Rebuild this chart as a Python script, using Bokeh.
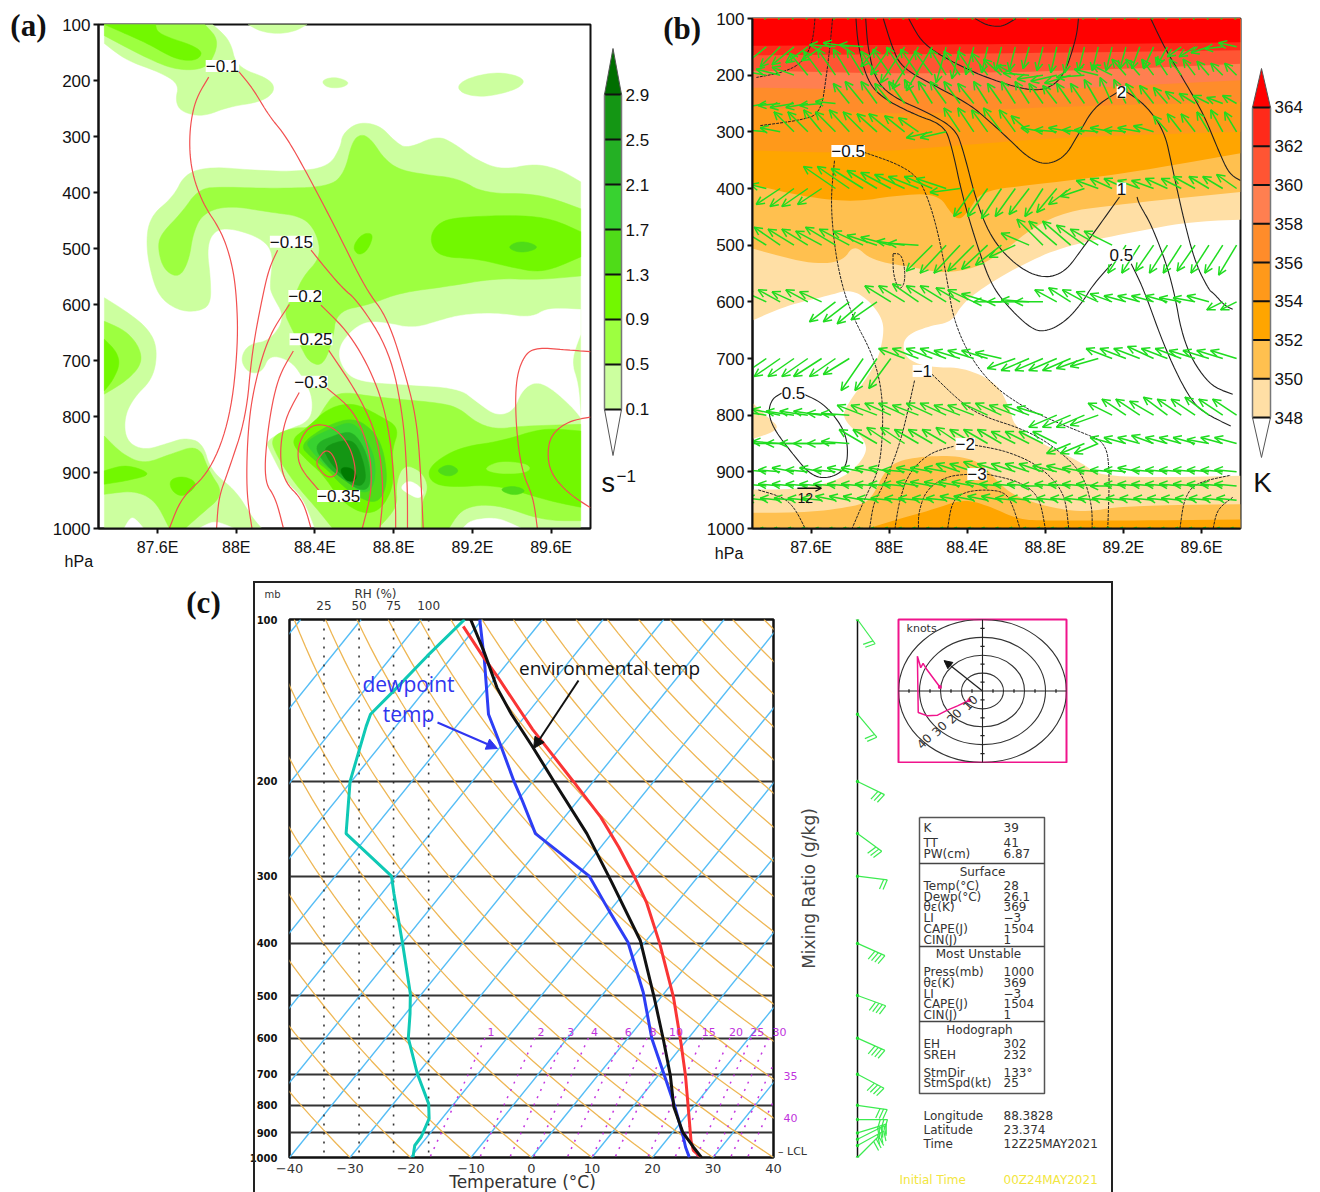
import math
import numpy as np
from bokeh.plotting import figure
from bokeh.layouts import row, column
from bokeh.embed import file_html
from bokeh.resources import INLINE
from bokeh.core.properties import value
from bokeh.models import (Range1d, FixedTicker, LinearAxis, Label, Arrow, InlineStyleSheet,
                          NormalHead, OpenHead)

# ---------------------------------------------------------------- panel (a): shaded field, (lon, hPa)
A_LEVELS = [0.1, 0.5, 0.9, 1.3, 1.7, 2.1, 2.5, 2.9]
A_COLORS = ["#ccff9f", "#9dff40", "#72f800", "#4fdc18", "#38d230", "#24b024", "#149614", "#007a00"]
A_TICKS = ["0.1", "0.5", "0.9", "1.3", "1.7", "2.1", "2.5", "2.9"]

a_light_topleft = [(87.33,100),(87.88,100),(87.97,128),(88.0,176),(88.17,197),(88.2,218),(88.13,238),(87.96,247),(87.83,265),(87.72,256),(87.69,236),(87.71,206),(87.61,185),(87.44,164),(87.33,134)]
a_light_top = [(88.06,100),(88.36,100),(88.30,112),(88.21,117),(88.12,112)]
a_light_s1 = [(88.43,200),(88.50,193),(88.58,203),(88.54,213),(88.46,213)]
a_light_s2 = [(89.12,209),(89.19,194),(89.32,185),(89.43,191),(89.47,203),(89.41,218),(89.26,230),(89.15,224)]
a_light_main = [(87.54,497),(87.56,443),(87.68,408),(87.74,366),(87.87,354),(88.08,360),(88.30,363),(88.47,354),(88.53,319),(88.54,295),(88.62,274),(88.73,280),(88.81,310),(88.87,322),(89.02,298),(89.11,313),(89.22,342),(89.35,360),(89.52,348),(89.65,360),(89.75,381),(89.75,1000),(88.4,1000),(88.34,945),(88.25,915),(88.17,861),(88.15,844),(88.25,825),(88.38,808),(88.39,766),(88.34,731),(88.28,701),(88.17,689),(88.13,722),(88.06,722),(88.02,698),(88.06,671),(88.17,665),(88.25,624),(88.18,582),(88.17,565),(88.19,509),(88.13,482),(87.98,464),(87.89,467),(87.85,497),(87.87,556),(87.87,600),(87.81,612),(87.72,612),(87.63,594),(87.58,564)]
a_light_left = [(87.33,588),(87.44,612),(87.55,642),(87.60,677),(87.58,731),(87.48,766),(87.43,802),(87.44,844),(87.53,861),(87.66,847),(87.74,838),(87.83,847),(87.87,897),(88.0,933),(88.08,980),(88.13,1000),(87.33,1000)]
a_white_right = [(88.52,677),(88.58,648),(88.66,630),(88.77,633),(88.90,643),(89.05,627),(89.15,618),(89.32,615),(89.50,624),(89.58,606),(89.75,609),(89.75,653),(89.70,701),(89.74,743),(89.75,802),(89.71,784),(89.60,749),(89.52,737),(89.45,754),(89.41,790),(89.32,799),(89.22,773),(89.13,749),(88.85,743),(88.60,737),(88.53,707)]
a_white_b1 = [(87.43,1000),(87.47,975),(87.53,1000)]
a_white_b2 = [(87.81,1000),(87.89,985),(87.99,1000)]
a_white_b3 = [(89.15,1000),(89.19,985),(89.32,980),(89.41,993),(89.45,1000)]
a_white_b4 = [(88.83,927),(88.88,912),(88.96,933),(88.93,948),(88.87,937)]

a_mid_topleft = [(87.33,100),(87.84,100),(87.90,122),(87.90,146),(87.85,179),(87.70,182),(87.55,161),(87.33,120)]
a_mid_main = [(87.60,497),(87.62,473),(87.72,437),(87.81,393),(87.93,390),(88.19,393),(88.47,390),(88.55,366),(88.59,307),(88.64,295),(88.69,307),(88.75,339),(88.83,360),(88.98,369),(89.13,375),(89.26,402),(89.54,402),(89.75,429),(89.75,549),(89.54,556),(89.32,553),(89.07,568),(88.83,579),(88.68,600),(88.51,612),(88.49,665),(88.44,710),(88.37,703),(88.33,677),(88.28,642),(88.24,612),(88.30,582),(88.34,550),(88.43,515),(88.41,473),(88.34,443),(88.17,435),(87.96,423),(87.83,437),(87.78,473),(87.76,521),(87.71,553),(87.63,538)]
a_mid_low = [(88.44,787),(88.51,754),(88.72,766),(89.02,775),(89.13,784),(89.22,811),(89.32,823),(89.45,817),(89.75,814),(89.75,986),(89.56,986),(89.32,956),(89.15,962),(89.08,1000),(88.94,1000),(88.94,956),(88.98,927),(88.94,897),(88.85,885),(88.81,921),(88.82,962),(88.72,1000),(88.49,1000),(88.42,969),(88.30,921),(88.21,873),(88.17,838),(88.28,820),(88.39,820)]
a_mid_left1 = [(87.33,630),(87.44,647),(87.51,677),(87.52,707),(87.44,737),(87.33,760)]
a_mid_left2 = [(87.33,835),(87.42,867),(87.53,885),(87.66,868),(87.81,850),(87.86,897),(87.94,939),(87.82,975),(87.74,1000),(87.66,1000),(87.59,950),(87.48,932),(87.33,939)]

a_hi_left1 = [(87.33,662),(87.39,683),(87.41,707),(87.37,737),(87.33,754)]
a_hi_left2 = [(87.33,897),(87.44,885),(87.58,903),(87.44,915),(87.33,921)]
a_hi_left3 = [(87.66,912),(87.74,906),(87.81,921),(87.73,945),(87.67,933)]
a_hi_topleft = [(87.33,100),(87.59,100),(87.6,117),(87.83,143),(87.81,164),(87.70,164),(87.55,134),(87.44,117)]
a_hi_right = [(88.98,485),(89.02,455),(89.13,443),(89.56,440),(89.75,470),(89.75,515),(89.56,544),(89.39,533),(89.22,518),(89.03,515)]
a_hi_small = [(88.59,497),(88.64,473),(88.70,473),(88.67,503),(88.62,513)]
a_hi_low = [(88.98,888),(89.13,855),(89.35,844),(89.56,820),(89.75,826),(89.75,962),(89.58,950),(89.32,921),(89.07,927),(88.98,915)]
a_mid_patch = [(89.25,894),(89.34,879),(89.49,885),(89.49,900),(89.34,903)]
a_13_a = [(89.37,498),(89.45,485),(89.55,498),(89.45,509)]
a_13_b = [(89.01,897),(89.08,884),(89.14,897),(89.08,909)]
a_13_c = [(89.33,930),(89.41,923),(89.48,933),(89.41,942)]
a_core_09 = [(88.27,844),(88.36,820),(88.47,784),(88.6,775),(88.73,799),(88.83,820),(88.79,861),(88.80,897),(88.79,933),(88.73,968),(88.64,974),(88.53,950),(88.44,903),(88.36,879)]
a_core_13 = [(88.32,850),(88.47,814),(88.6,802),(88.7,826),(88.75,861),(88.77,921),(88.72,956),(88.62,945),(88.53,921),(88.47,897),(88.38,873)]
a_core_17 = [(88.35,844),(88.49,820),(88.59,808),(88.66,838),(88.71,879),(88.70,927),(88.64,939),(88.54,909),(88.46,891),(88.38,861)]
a_core_21 = [(88.39,850),(88.51,832),(88.59,826),(88.65,855),(88.68,891),(88.68,927),(88.63,933),(88.53,909),(88.45,885)]
a_core_25 = [(88.44,855),(88.55,841),(88.61,847),(88.65,885),(88.66,915),(88.62,927),(88.53,903),(88.47,879)]
a_core_29 = [(88.52,891),(88.59,891),(88.62,912),(88.56,918)]

# panel (a): red contour lines
a_lines = [
 [(87.86,194),(87.79,235),(87.76,295),(87.77,360),(87.83,420),(87.92,467),(87.97,515),(88.0,573),(88.01,671),(87.97,802),(87.87,897),(87.72,945),(87.66,1000)],
 [(88.01,183),(88.08,212),(88.17,265),(88.25,298),(88.36,366),(88.51,467),(88.66,574),(88.77,624),(88.87,737),(88.92,814),(88.94,921),(88.95,1000)],
 [(88.21,503),(88.17,533),(88.14,574),(88.08,683),(88.05,802),(87.96,897),(87.91,945),(87.90,1000)],
 [(88.38,503),(88.53,568),(88.62,594),(88.78,683),(88.85,802),(88.87,921),(88.87,1000)],
 [(88.27,600),(88.17,653),(88.10,731),(88.06,814),(88.05,933),(88.08,1000)],
 [(88.43,601),(88.58,653),(88.71,737),(88.78,825),(88.81,950),(88.81,1000)],
 [(88.29,683),(88.21,731),(88.16,820),(88.14,915),(88.20,945),(88.24,1000)],
 [(88.47,682),(88.62,760),(88.72,838),(88.75,933),(88.73,1000)],
 [(88.32,757),(88.25,802),(88.22,861),(88.24,915),(88.34,950),(88.38,1000)],
 [(88.46,749),(88.60,790),(88.68,861),(88.69,933),(88.64,1000)],
 [(88.42,932),(88.32,891),(88.31,855),(88.36,820),(88.43,813),(88.51,823),(88.58,855),(88.61,897),(88.59,926)],
 [(88.41,879),(88.45,859),(88.49,866),(88.52,897),(88.49,909),(88.45,906),(88.41,888),(88.41,879)],
 [(89.80,684),(89.67,681),(89.54,677),(89.47,686),(89.42,731),(89.42,814),(89.45,897),(89.51,945),(89.53,1000)],
 [(89.80,801),(89.69,808),(89.60,832),(89.58,867),(89.6,903),(89.69,938),(89.80,963)],
]
a_label_text = ["\u22120.1", "\u22120.15", "\u22120.2", "\u22120.25", "\u22120.3", "\u22120.35"]
a_label_lon = [87.93, 88.28, 88.35, 88.38, 88.38, 88.52]
a_label_hpa = [174, 488, 585, 662, 738, 942]

# ---------------------------------------------------------------- panel (b)
B_LEVELS = [348, 350, 352, 354, 356, 358, 360, 362, 364]
B_COLORS = ["#ffdfa5", "#ffc04f", "#ffa500", "#ff991a", "#ff8c2a", "#ff7f50", "#ff5533", "#ff2a1a", "#ff0000"]

b_348 = [(87.3,100),(89.8,100),(89.8,455),(89.53,459),(89.20,480),(88.88,504),(88.69,533),(88.51,568),(88.38,601),(88.32,636),(88.21,642),(88.08,660),(88.07,689),(88.12,707),(88.23,716),(88.38,716),(88.55,742),(88.62,789),(88.64,819),(88.77,848),(88.99,884),(89.07,907),(89.42,910),(89.8,907),(89.8,1000),(87.3,1000),(87.3,931),(87.54,931),(87.76,913),(87.87,878),(87.89,848),(87.76,807),(87.78,783),(87.93,713),(87.97,666),(87.97,631),(87.89,595),(87.80,578),(87.69,589),(87.47,607),(87.3,633)]
b_348_left = [(87.3,778),(87.37,801),(87.45,825),(87.3,842)]
b_350_up = [(87.3,100),(89.8,100),(89.8,406),(89.20,427),(88.82,445),(88.51,533),(88.30,551),(88.12,539),(87.91,527),(87.82,498),(87.76,530),(87.585,533),(87.3,506)]
b_350_sfc = [(87.3,1000),(87.3,972),(87.585,972),(87.84,960),(87.91,948),(87.99,889),(88.12,874),(88.34,871),(88.47,883),(88.56,919),(88.64,942),(88.79,960),(88.99,972),(89.20,960),(89.8,957),(89.8,1000)]
b_352_up = [(87.3,100),(89.8,100),(89.8,338),(89.20,374),(88.77,392),(88.47,404),(88.41,439),(88.36,456),(88.32,445),(88.25,409),(88.04,412),(87.82,424),(87.57,415),(87.3,393)]
b_352_sfc = [(87.89,1000),(88.04,984),(88.23,966),(88.38,948),(88.51,960),(88.66,984),(88.79,986),(89.20,986),(89.8,984),(89.8,1000)]
b_354_lon = [87.3, 87.82, 88.36, 88.80, 89.20, 89.8]
b_354_hpa = [333, 338, 324, 312, 306, 300]
b_356_lon = [87.3, 88.12, 88.75, 89.8]
b_356_hpa = [256, 271, 256, 248]
b_358_lon = [87.3, 88.12, 88.75, 89.8]
b_358_hpa = [222, 227, 227, 209]
b_360_lon = [87.3, 88.12, 88.99, 89.8]
b_360_hpa = [192, 198, 192, 180]
b_362_lon = [87.3, 88.5, 89.8]
b_362_hpa = [165, 162, 156]
b_364_lon = [87.3, 87.91, 88.56, 89.2, 89.8]
b_364_hpa = [148, 147, 145, 145, 142]

b_solid = [
 [(87.83,100),(87.84,147),(87.89,212),(87.97,241),(88.12,268),(88.28,288),(88.32,324),(88.38,421),(88.47,521),(88.53,574),(88.62,613),(88.73,648),(88.80,653),(88.90,636),(88.99,601),(89.04,572),(89.14,533)],
 [(89.24,533),(89.30,574),(89.42,689),(89.55,778),(89.64,801),(89.75,819)],
 [(87.88,100),(87.89,151),(87.93,209),(88.02,239),(88.21,268),(88.34,295),(88.38,333),(88.45,427),(88.53,492),(88.66,539),(88.79,559),(88.90,548),(88.99,506),(89.07,468),(89.18,415)],
 [(89.27,415),(89.28,427),(89.35,468),(89.45,562),(89.51,678),(89.64,748),(89.76,763)],
 [(87.97,100),(88.01,145),(88.06,186),(88.23,218),(88.41,251),(88.51,280),(88.62,315),(88.71,345),(88.80,359),(88.90,345),(88.97,304),(89.05,256),(89.17,230)],
 [(89.21,228),(89.31,251),(89.41,298),(89.45,362),(89.51,456),(89.57,533),(89.64,580),(89.66,584),(89.72,607),(89.76,613)],
 [(88.10,100),(88.17,145),(88.34,180),(88.51,206),(88.71,227),(88.82,224),(88.90,198),(88.96,133),(88.97,100)],
 [(88.44,100),(88.50,112),(88.58,115),(88.65,100)],
 [(89.34,100),(89.41,151),(89.51,209),(89.61,268),(89.68,327),(89.74,374),(89.80,386)],
 [(87.55,761),(87.66,778),(87.76,819),(87.79,854),(87.78,895),(87.69,912),(87.60,907),(87.50,866),(87.41,825),(87.38,795),(87.40,771),(87.45,761)],
]
b_dashed = [
 [(87.62,100),(87.61,139),(87.56,177),(87.46,195),(87.32,204)],
 [(87.71,100),(87.70,139),(87.68,198),(87.65,268),(87.54,280),(87.34,289)],
 [(87.87,336),(88.04,356),(88.15,380),(88.21,427),(88.26,492),(88.30,568),(88.33,631),(88.41,695),(88.53,748),(88.69,786),(88.82,807),(88.99,831),(89.11,848),(89.13,901),(89.12,1000)],
 [(87.72,351),(87.70,421),(87.72,504),(87.76,574),(87.82,631),(87.91,689),(87.96,748),(87.97,819),(87.95,895),(87.89,936),(87.81,1000)],
 [(88.02,515),(88.06,515),(88.08,539),(88.08,568),(88.05,580),(88.02,551),(88.02,515)],
 [(88.13,739),(88.06,848),(87.97,925),(87.92,954),(87.90,1000)],
 [(88.22,728),(88.36,775),(88.47,801),(88.69,825),(88.84,854),(88.99,901),(89.04,960),(89.04,1000)],
 [(88.33,855),(88.21,866),(88.10,901),(88.05,954),(88.03,1000)],
 [(88.44,853),(88.60,863),(88.77,889),(88.90,936),(88.92,1000)],
 [(88.42,904),(88.30,907),(88.19,931),(88.15,972),(88.15,1000)],
 [(88.50,904),(88.66,916),(88.77,942),(88.80,1000)],
 [(88.30,1000),(88.32,954),(88.38,936),(88.49,931),(88.60,936),(88.64,966),(88.67,1000)],
 [(87.33,932),(87.46,945),(87.52,966),(87.57,1000)],
 [(89.49,1000),(89.51,948),(89.57,919),(89.75,906)],
 [(89.66,1000),(89.68,966),(89.76,945)],
]
b_label_text = ["\u22120.5", "2", "1", "0.5", "0.5", "\u22121", "\u22122", "\u22123"]
b_label_lon = [87.79, 89.19, 89.19, 89.19, 87.51, 88.17, 88.39, 88.45]
b_label_hpa = [334, 230, 400, 518, 760, 722, 851, 904]

# panel (b): wind rows, m/s
wind_u = {
 100: [-1]*36,
 150: [-11,-11,-10,-11,-11,-10,-13,-13,-12,-8,-10,-12,-13,-13,-5,-4,-4,-3,-3,-3,-3,-3,-3,-3,-3,-3,-3,-3,-4,-5,-5,-7,-8,-9,-9,-9],
 200: [-11,-12,-12,-11,-9,-9,-9,-8,-8,-8,-9,-9,-9,-9,-8,-8,-8,-8,-9,-9,-13,-13,-13,-13,-14,-12,-10,-7,-7,-6,-6,-6,-6,-6,-6,-6],
 250: [-12,-12,-11,-12,-11,-11,-10,-8,-9,-8,-8,-8,-7,-7,-8,-8,-8,-7,-7,-7,-7,-7,-7,-7,-7,-7,-6,-6,-7,-7,-7,-8,-8,-8,-8,-7],
 300: [-11,-11,-10,-10,-10,-9,-10,-10,-10,-10,-11,-10,-10,-13,-13,-8,-8,-8,-9,-8,-9,-11,-11,-11,-11,-12,-11,-11,-11,-10,-7,-7,-7,-6,-6,-6],
 400: [-8,-8,-12,-12,-13,-12,-16,-16,-16,-15,-15,-15,-15,-14,-15,-15,-10,-10,-10,-10,-10,-9,-10,-11,-12,-11,-11,-11,-11,-11,-11,-10,-11,-10,-10,-10],
 500: [-13,-13,-13,-13,-13,-13,-15,-15,-15,-15,-15,-14,-15,-13,-13,-13,-13,-13,-13,-13,-14,-13,-14,-14,-14,-14,-14,-9,-9,-9,-9,-9,-9,-9,-9,-9],
 600: [-11,-11,-11,-11,-11,-11,-13,-13,-13,-13,-13,-13,-13,-13,-13,-12,-13,-13,-14,-14,-14,-14,-11,-11,-11,-11,-11,-11,-11,-11,-11,-11,-11,-11,-8,-8],
 700: [-13,-13,-13,-13,-13,-14,-13,-13,-11,-11,-11,-13,-13,-13,-13,-13,-13,-13,-13,-14,-14,-14,-14,-14,-14,-14,-13,-13,-13,-13,-13,-13,-13,-13,-13,-13],
 800: [-14,-14,-14,-14,-14,-14,-14,-14,-13,-13,-13,-13,-13,-13,-13,-13,-13,-13,-13,-13,-13,-13,-14,-14,-14,-14,-12,-12,-12,-12,-12,-12,-12,-12,-12,-12],
 850: [-14,-14,-14,-14,-14,-14,-14,-14,-12,-12,-12,-12,-12,-12,-12,-12,-12,-12,-12,-12,-12,-12,-12,-12,-12,-12,-11,-11,-11,-11,-11,-11,-11,-11,-11,-11],
 900: [-11,-11,-11,-11,-11,-11,-11,-11,-11,-11,-11,-11,-11,-11,-11,-12,-12,-12,-12,-12,-12,-12,-12,-12,-11,-11,-11,-11,-11,-11,-11,-11,-11,-11,-11,-11],
 925: [-11]*36,
 950: [-10]*36,
 1000: [-3]*36,
}
wind_v = {
 100: [0]*36,
 150: [-9,-9,-10,-9,-8,-7,1,2,1,-10,-14,-18,-21,-22,-18,-16,-14,-13,-12,-12,-11,-12,-13,-13,-12,-12,-12,-11,-11,-11,-9,-5,-5,-3,-1,2],
 200: [1,2,3,4,11,12,13,13,13,12,13,14,13,12,13,12,12,11,8,5,1,-2,-3,-4,-1,3,5,8,8,8,9,8,8,7,6,6],
 250: [-2,-2,-1,-2,-2,-1,1,10,11,11,10,11,12,11,11,11,10,11,10,11,11,10,9,10,10,12,13,12,10,9,8,6,5,4,3,4],
 300: [1,1,2,10,10,11,10,11,10,9,9,8,7,-3,-3,12,12,11,12,11,8,2,1,2,1,1,2,1,2,3,8,9,9,10,11,10],
 400: [1,2,-8,-9,-9,-8,11,11,10,9,8,7,6,6,5,-2,-14,-14,-15,-14,-13,-14,-12,-8,-4,4,5,5,4,4,5,5,6,6,6,7],
 500: [8,8,9,8,8,7,9,8,7,5,4,2,1,-13,-14,-14,-13,-12,-10,-6,6,13,12,12,10,8,7,-14,-14,-13,-14,-14,-13,-14,-14,-15],
 600: [5,5,6,5,6,5,-10,-10,-11,-9,8,8,9,8,8,7,6,4,0,0,1,0,6,7,6,5,4,3,3,3,3,2,2,3,-4,-4],
 700: [-8,-9,-9,-9,-9,-9,-9,-8,-16,-16,-15,5,5,5,5,4,4,4,3,-5,-6,-6,-6,-6,-5,-4,5,5,5,6,5,5,4,4,4,4],
 800: [2,2,3,2,2,2,1,1,5,5,6,6,5,6,6,5,5,6,6,5,5,4,-6,-6,-6,-5,6,8,8,7,9,8,8,9,8,8],
 850: [0,0,1,0,0,0,0,1,7,7,8,8,7,7,7,8,7,7,7,6,6,6,6,-5,-5,-5,3,3,3,4,3,3,3,2,3,3],
 900: [1,1,1,2,1,2,1,2,2,2,2,1,2,2,2,4,4,5,4,4,4,4,3,3,2,1,1,1,2,1,1,1,1,1,1,1],
 925: [1,1,1,1,1,1,1,1,1,1,1,1,2,2,2,2,2,2,1,1,1,0,1,1,1,1,0,1,1,1,1,1,1,1,1,1],
 950: [1,1,1,1,1,1,2,2,2,1,1,1,1,1,1,2,2,2,2,1,1,1,1,1,1,1,1,1,1,1,1,1,1,1,1,1],
 1000: [0]*36,
}
wind_ref_speed = 12

# ---------------------------------------------------------------- panel (c): sounding
snd_env_p = [100,114,134,150,172,200,250,306,395,504,606,704,806,897,957,1000]
snd_env_t = [-81.9,-75.7,-68.4,-62.5,-54.8,-46.5,-34.1,-23.8,-11.0,-1.1,6.2,12.0,16.8,21.6,25.4,28.1]
snd_dew_p = [100,119,150,173,200,217,250,300,348,398,493,601,710,806,917,957,1000]
snd_dew_t = [-80.4,-74.2,-66.3,-59.7,-53.1,-49.2,-42.6,-28.0,-20.1,-12.8,-3.6,4.0,11.4,17.0,22.4,24.1,26.1]
snd_par_p = [103,117,128,160,200,233,265,300,336,400,504,614,704,828,930,970,1000]
snd_par_t = [-82.2,-75.0,-69.7,-57.0,-43.3,-34.0,-27.0,-20.6,-15.0,-7.4,2.1,9.5,14.5,20.1,24.1,25.8,28.0]
snd_teal_p = [100,117,136,150,158,200,250,300,323,400,496,540,600,698,794,847,915,950,1000]
snd_teal_t = [-82.9,-84.2,-85.1,-85.8,-84.9,-80.2,-73.9,-60.7,-58.0,-49.9,-41.9,-39.3,-36.3,-30.1,-24.2,-22.1,-21.0,-20.9,-19.6]

p_ticks = [100,200,300,400,500,600,700,800,900,1000]
t_ticks = [-40,-30,-20,-10,0,10,20,30,40]
rh_labels = ["25","50","75","100"]
rh_x = [-34.3,-28.5,-22.8,-17.0]
mix_labels = ["1","2","3","4","6","8","10","15","20","25"]
mix_top = [-7.7,0.55,5.5,9.4,15.0,19.1,22.9,28.3,32.8,36.3,39.2,42.0,44.8]
mix_side_labels = {707: "35", 843: "40"}
lcl_hpa = 975

barb_p = [100,150,200,250,300,400,500,600,700,800,850,900,925,950,1000]
barb_dir = [144,140,116,126,97,114,110,114,118,98,90,73,63,61,45]
barb_kt = [20,20,30,30,20,40,40,40,40,30,30,30,30,30,30]

hodo_u = [-6.3,-11.9,-16.7,-21.4,-26.2,-30.6,-31.0,-29.4,-28.3,-26.5,-20.3]
hodo_v = [-5.2,-8.3,-10.7,-13.5,-13.9,-12.0,19.4,13.0,15.4,12.0,2.2]
storm_u, storm_v = -18.3, 17.0
hodo_rings = [10,20,30,40]

stats = [("K","39",827),("TT","41",842),("PW(cm)","6.87",853),
         ("Temp(\u00b0C)","28",885),("Dewp(\u00b0C)","26.1",896),("\u03b8\u03b5(K)","369",906),("LI","\u22123",917),("CAPE(J)","1504",928),("CIN(J)","1",939),
         ("Press(mb)","1000",971),("\u03b8\u03b5(K)","369",982),("LI","\u22123",993),("CAPE(J)","1504",1003),("CIN(J)","1",1014),
         ("EH","302",1043),("SREH","232",1054),("StmDir","133\u00b0",1072),("StmSpd(kt)","25",1082),
         ("Longitude","88.3828",1115),("Latitude","23.374",1129),("Time","12Z25MAY2021",1143)]

# ---------------------------------------------------------------- helpers
SANS = "Liberation Sans"
LON_TICKS = [87.6, 88, 88.4, 88.8, 89.2, 89.6]
LON_NAMES = {87.6:"87.6E", 88:"88E", 88.4:"88.4E", 88.8:"88.8E", 89.2:"89.2E", 89.6:"89.6E"}
HPA_TICKS = [100,200,300,400,500,600,700,800,900,1000]

def smooth(pts, closed, lo, hi, n=3):
    pts = [tuple(q) for q in pts]
    for _ in range(n):
        out = []
        m = len(pts)
        for i, v in enumerate(pts):
            on_edge = v[0] <= lo + 1e-6 or v[0] >= hi - 1e-6 or v[1] <= 100 or v[1] >= 1000
            if on_edge or (not closed and (i == 0 or i == m - 1)):
                out.append(v)
                continue
            a, b = pts[i - 1], pts[(i + 1) % m]
            out.append((.75*v[0]+.25*a[0], .75*v[1]+.25*a[1]))
            out.append((.75*v[0]+.25*b[0], .75*v[1]+.25*b[1]))
        pts = out
    return [q[0] for q in pts], [q[1] for q in pts]

def map_fig(width, left, right, top, bottom):
    p = figure(width=width, height=575, x_range=Range1d(87.3, 89.8), y_range=Range1d(1000, 100),
               output_backend="svg", toolbar_location=None, min_border_left=left, min_border_right=right,
               min_border_top=top, min_border_bottom=bottom, background_fill_color="white")
    p.grid.visible = False
    p.outline_line_color = "#111111"
    p.outline_line_width = 2
    for ax in (p.xaxis[0], p.yaxis[0]):
        ax.axis_line_width = 2
        ax.axis_line_color = "#111111"
        ax.major_tick_line_width = 2
        ax.major_tick_line_color = "#111111"
        ax.major_tick_in = 0
        ax.major_tick_out = 5
        ax.minor_tick_line_color = None
        ax.major_label_text_font = SANS
        ax.major_label_text_font_size = "17px"
        ax.major_label_text_color = "#111111"
    p.xaxis[0].ticker = FixedTicker(ticks=LON_TICKS)
    p.xaxis[0].major_label_overrides = LON_NAMES
    p.xaxis[0].major_label_text_font_size = "16px"
    p.xaxis[0].major_label_standoff = 5
    p.yaxis[0].ticker = FixedTicker(ticks=HPA_TICKS)
    p.yaxis[0].major_label_standoff = 3
    p.yaxis[0].major_label_orientation = "horizontal"
    return p

def white_label(p, x, y, text):
    p.add_layout(Label(x=x, y=y, text=text, text_align="center", text_baseline="middle",
                       text_font=SANS, text_font_size="17px", text_color="#111111",
                       background_fill_color="white", background_fill_alpha=1.0))

def outer(p, side, x, y, text, size, font=SANS, color="#111111", style="normal", angle=0):
    # a label placed in a side panel is not clipped to the plot frame
    p.add_layout(Label(x=x, y=y, text=text, text_align="center", text_baseline="middle", text_font=font,
                       text_font_size=size, text_color=color, text_font_style=style, angle=angle), side)

def colorbar(width, bar_l, bar_r, levels, colors, top_color, ymin, ymax, apex_hi, apex_lo, labels, fsize):
    p = figure(width=width, height=575, x_range=Range1d(0, width), y_range=Range1d(ymin, ymax),
               output_backend="svg", toolbar_location=None, min_border_left=0, min_border_right=0,
               min_border_top=0, min_border_bottom=0, x_axis_type=None, y_axis_type=None)
    p.grid.visible = False
    p.outline_line_color = None
    lv = levels
    mid = (bar_l + bar_r) / 2
    p.quad(left=bar_l, right=bar_r, bottom=lv[:-1], top=lv[1:], fill_color=colors[:len(lv)-1], line_color=None)
    p.patch([bar_l, mid, bar_r], [lv[-1], apex_hi, lv[-1]], fill_color=top_color, line_color="#555555", line_width=1)
    p.patch([bar_l, mid, bar_r], [lv[0], apex_lo, lv[0]], fill_color="white", line_color="#555555", line_width=1)
    p.segment(x0=bar_l, x1=bar_r, y0=lv, y1=lv, line_color="#111111", line_width=2)
    p.segment(x0=[bar_l, bar_r], x1=[bar_l, bar_r], y0=lv[0], y1=lv[-1], line_color="#777777", line_width=1.5)
    p.text([bar_r + 4] * len(lv), lv, text=labels, text_align="left", text_baseline="middle",
           text_font=value(SANS), text_font_size=fsize, text_color="#111111")
    return p

# ---------------------------------------------------------------- panel (a)
fig_a = map_fig(596, 98, 6, 24, 46)
a_fill = [
 (a_light_topleft, 0), (a_light_top, 0), (a_light_s1, 0), (a_light_s2, 0), (a_light_main, 0), (a_light_left, 0),
 (a_white_right, -1), (a_white_b1, -1), (a_white_b2, -1), (a_white_b3, -1), (a_white_b4, -1),
 (a_mid_topleft, 1), (a_mid_main, 1), (a_mid_low, 1), (a_mid_left1, 1), (a_mid_left2, 1),
 (a_hi_left1, 2), (a_hi_left2, 2), (a_hi_left3, 2), (a_hi_topleft, 2), (a_hi_right, 2), (a_hi_small, 2), (a_hi_low, 2),
 (a_mid_patch, 1), (a_13_a, 3), (a_13_b, 3), (a_13_c, 3),
 (a_core_09, 2), (a_core_13, 3), (a_core_17, 4), (a_core_21, 5), (a_core_25, 6), (a_core_29, 7),
]
for poly, lev in a_fill:
    xs, ys = smooth(poly, True, 87.33, 89.75)
    col = "white" if lev < 0 else A_COLORS[lev]
    fig_a.patch(xs, ys, fill_color=col, line_color=col, line_width=0.5)
for ln in a_lines:
    xs, ys = smooth(ln, False, 87.3, 89.8)
    fig_a.line(xs, ys, line_color="#f25050", line_width=1.2)
for lb, lo, hp in zip(a_label_text, a_label_lon, a_label_hpa):
    white_label(fig_a, lo, hp, lb)
outer(fig_a, "left", 86.944, 102, "(a)", "31px", "Liberation Serif", style="bold")
outer(fig_a, "below", 87.2, 1059, "hPa", "16px")

cb_a = colorbar(64, 8, 25, A_LEVELS, A_COLORS, "#006e00", -1.3756, 3.7356, 3.309, -0.309, A_TICKS, "17px")
cb_a.text([5, 20], [-0.549, -0.487], text=["s", "\u22121"], text_align="left", text_baseline="middle",
          text_font=value(SANS), text_font_size=["27px", "17px"], text_color="#111111")

# ---------------------------------------------------------------- panel (b)
fig_b = map_fig(585, 92, 5, 18, 47)
fig_b.patch(*smooth(b_348, True, 87.3, 89.8), fill_color=B_COLORS[0], line_color=None)
fig_b.patch(*smooth(b_348_left, True, 87.3, 89.8), fill_color=B_COLORS[0], line_color=None)
fig_b.patch(*smooth(b_350_up, True, 87.3, 89.8), fill_color=B_COLORS[1], line_color=None)
fig_b.patch(*smooth(b_350_sfc, True, 87.3, 89.8), fill_color=B_COLORS[1], line_color=None)
fig_b.patch(*smooth(b_352_up, True, 87.3, 89.8), fill_color=B_COLORS[2], line_color=None)
fig_b.patch(*smooth(b_352_sfc, True, 87.3, 89.8), fill_color=B_COLORS[2], line_color=None)
bands = [(b_354_lon, b_354_hpa, 3), (b_356_lon, b_356_hpa, 4), (b_358_lon, b_358_hpa, 5),
         (b_360_lon, b_360_hpa, 6), (b_362_lon, b_362_hpa, 7), (b_364_lon, b_364_hpa, 8)]
for lons, hpas, idx in bands:
    xs, ys = smooth(list(zip(lons, hpas)), False, 87.3, 89.8)
    fig_b.patch(list(xs) + [89.8, 87.3], list(ys) + [100, 100], fill_color=B_COLORS[idx], line_color=None)
for ln in b_solid:
    fig_b.line(*smooth(ln, False, 87.3, 89.8), line_color="#222222", line_width=1.1)
for ln in b_dashed:
    fig_b.line(*smooth(ln, False, 87.3, 89.8), line_color="#222222", line_width=1.0, line_dash="3 1")

PX_LON_B = 2.5 / 488.0
PX_HPA_B = 900.0 / 510.0
PX_PER_MS = 2.0
wind_lons = np.linspace(87.3, 89.78, 36)
ws_x, ws_y = [], []
for lev, us in wind_u.items():
    vs = wind_v[lev]
    for lo, u, v in zip(wind_lons, us, vs):
        dx, dy = u * PX_PER_MS, v * PX_PER_MS
        L = math.hypot(dx, dy)
        tipx, tipy = lo + dx * PX_LON_B, lev - dy * PX_HPA_B
        ws_x.append([lo, tipx]); ws_y.append([lev, tipy])
        if L > 0:
            h = min(9.0, L * 0.55)
            for sgn in (1, -1):
                ang = math.atan2(dy, dx) + math.pi + sgn * 0.45
                ws_x.append([tipx, tipx + h * math.cos(ang) * PX_LON_B])
                ws_y.append([tipy, tipy - h * math.sin(ang) * PX_HPA_B])
fig_b.multi_line(ws_x, ws_y, line_color="#1fdc1f", line_width=1.5)
for lb, lo, hp in zip(b_label_text, b_label_lon, b_label_hpa):
    white_label(fig_b, lo, hp, lb)
ref_lon, ref_hpa = 87.53, 929
fig_b.add_layout(Arrow(end=OpenHead(size=6, line_color="#111111", line_width=1.2), x_start=ref_lon, y_start=ref_hpa,
                       x_end=ref_lon + wind_ref_speed * PX_PER_MS * PX_LON_B, y_end=ref_hpa,
                       line_color="#111111", line_width=1.3))
fig_b.text([87.57], [947], text=[str(wind_ref_speed)], text_align="center", text_baseline="middle",
           text_font=value(SANS), text_font_size="14px", text_color="#111111")
outer(fig_b, "left", 86.94, 118, "(b)", "31px", "Liberation Serif", style="bold")
outer(fig_b, "below", 87.18, 1044, "hPa", "16px")

cb_b = colorbar(70, 7, 25, B_LEVELS, B_COLORS, "#ff0000", 339.85, 369.52, 366.01, 345.94,
                [str(v) for v in B_LEVELS], "17px")
cb_b.text([17], [344.65], text=["K"], text_align="center", text_baseline="middle",
          text_font=value(SANS), text_font_size="28px", text_color="#111111")

# ---------------------------------------------------------------- panel (c): skew-T
SKEW = 31.2
FRAME_H_C = 538.0
PX_LN = FRAME_H_C / math.log(10)
PX_T = 484.0 / 80.0
def sx(t, p):
    return np.asarray(t, dtype=float) + SKEW * np.log(1000.0 / np.asarray(p, dtype=float))
def xpx(px):
    return (px - 289.0) / PX_T - 40
def ypx(py):
    return 1000.0 * math.exp(-(1157.0 - py) / PX_LN)

shared_y = Range1d(1000, 100)
fig_c = figure(width=850, height=617, x_range=Range1d(-40, 40), y_range=shared_y, y_axis_type="log",
               output_backend="svg", toolbar_location=None, min_border_left=289, min_border_right=77,
               min_border_top=44, min_border_bottom=35)
fig_c.outline_line_color = "#111111"
fig_c.outline_line_width = 2.5
fig_c.xgrid.visible = False
fig_c.ygrid.ticker = FixedTicker(ticks=p_ticks)
fig_c.ygrid.grid_line_color = "#333333"
fig_c.ygrid.grid_line_width = 2
ya = fig_c.yaxis[0]
ya.ticker = FixedTicker(ticks=p_ticks)
ya.major_label_overrides = {v: str(v) for v in p_ticks}
ya.major_label_text_font = "DejaVu Sans"
ya.major_label_text_font_style = "bold"
ya.major_label_text_font_size = "10px"
ya.major_label_text_color = "#111111"
ya.major_tick_line_color = None
ya.minor_tick_line_color = None
ya.axis_line_color = None
ya.major_label_standoff = 6
xa = fig_c.xaxis[0]
xa.ticker = FixedTicker(ticks=t_ticks)
xa.major_label_overrides = {v: str(v).replace("-", "\u2212") for v in t_ticks}
xa.major_label_text_font = "DejaVu Sans"
xa.major_label_text_font_size = "13px"
xa.major_label_text_color = "#333333"
xa.major_tick_line_color = None
xa.minor_tick_line_color = None
xa.axis_line_color = None
xa.major_label_standoff = 0

top_ax = LinearAxis(ticker=FixedTicker(ticks=rh_x), major_label_overrides=dict(zip(rh_x, rh_labels)))
top_ax.axis_line_color = None
top_ax.major_tick_line_color = None
top_ax.minor_tick_line_color = None
top_ax.major_label_standoff = 4
top_ax.major_label_text_font = "DejaVu Sans"
top_ax.major_label_text_font_size = "12px"
top_ax.major_label_text_color = "#333333"
fig_c.add_layout(top_ax, "above")

right_ax = LinearAxis(ticker=FixedTicker(ticks=list(mix_side_labels)),
                      major_label_overrides=mix_side_labels)
right_ax.axis_line_color = None
right_ax.major_tick_line_color = None
right_ax.minor_tick_line_color = None
right_ax.major_label_standoff = 4
right_ax.major_label_text_font = "DejaVu Sans"
right_ax.major_label_text_font_size = "11px"
right_ax.major_label_text_color = "#c033dd"
right_ax.major_label_orientation = "horizontal"
fig_c.add_layout(right_ax, "right")

iso_t = list(range(-120, 50, 10))
fig_c.multi_line([[t, t + SKEW * math.log(10)] for t in iso_t], [[1000, 100]] * len(iso_t),
                 line_color="#55bdf5", line_width=1.4)
plev = np.geomspace(1000, 100, 40)
for th_c in range(-30, 200, 10):
    tt = (th_c + 273.15) * (plev / 1000.0) ** 0.286 - 273.15
    fig_c.line(sx(tt, plev), plev, line_color="#eeb755", line_width=1.3)
for rx in rh_x:
    fig_c.line([rx, rx], [100, 1000], line_color="#333333", line_width=1.6, line_dash="2 7")
for tx in mix_top:
    fig_c.line([tx, tx - 9.1], [600, 1000], line_color="#c538e0", line_width=1.5, line_dash="2 6")

fig_c.line(sx(snd_teal_t, snd_teal_p), snd_teal_p, line_color="#0fc9b5", line_width=3)
fig_c.line(sx(snd_dew_t, snd_dew_p), snd_dew_p, line_color="#2d3ef5", line_width=3)
fig_c.line(sx(snd_par_t, snd_par_p), snd_par_p, line_color="#fa3535", line_width=3)
fig_c.line(sx(snd_env_t, snd_env_p), snd_env_p, line_color="#111111", line_width=3)

fig_c.text([xpx(609)], [ypx(667)], text=["environmental temp"], text_align="center", text_baseline="middle",
           text_font=value("Open Sans"), text_font_size="19px", text_color="#111111")
fig_c.text([xpx(408), xpx(408)], [ypx(683), ypx(713)], text=["dewpoint", "temp"], text_align="center",
           text_baseline="middle", text_font=value("Open Sans"), text_font_size="21px", text_color="#2f35f0")
fig_c.text([tx + 1.0 for tx in mix_top[:len(mix_labels)]], [ypx(1031)] * len(mix_labels), text=mix_labels,
           text_align="center", text_baseline="middle", text_font=value("DejaVu Sans"),
           text_font_size="11px", text_color="#c033dd")
fig_c.add_layout(Arrow(end=NormalHead(size=11, fill_color="#111111", line_color="#111111"),
                       x_start=xpx(578), y_start=ypx(680), x_end=xpx(533), y_end=ypx(748),
                       line_color="#111111", line_width=2))
fig_c.add_layout(Arrow(end=NormalHead(size=11, fill_color="#2f35f0", line_color="#2f35f0"),
                       x_start=xpx(437), y_start=ypx(722), x_end=xpx(497), y_end=ypx(748),
                       line_color="#2f35f0", line_width=2))

outer(fig_c, "above", xpx(792), lcl_hpa, "\u2013 LCL", "11px", "DejaVu Sans", "#333333")
outer(fig_c, "left", xpx(272), ypx(594), "mb", "10px", "DejaVu Sans", "#333333")
outer(fig_c, "left", xpx(375), ypx(593), "RH (%)", "12px", "DejaVu Sans", "#333333")
outer(fig_c, "left", xpx(203), ypx(602), "(c)", "31px", "Liberation Serif", style="bold")
outer(fig_c, "left", xpx(522), ypx(1181), "Temperature (\u00b0C)", "17px", "DejaVu Sans", "#333333")
outer(fig_c, "right", xpx(779), ypx(1031), "30", "11px", "DejaVu Sans", "#c033dd")
outer(fig_c, "right", xpx(808), ypx(888), "Mixing Ratio (g/kg)", "17px", "DejaVu Sans", "#444444", angle=math.pi / 2)

# wind barb column
fig_w = figure(width=47, height=617, x_range=Range1d(850, 897), y_range=shared_y, y_axis_type="log", x_axis_type=None,
               output_backend="svg", toolbar_location=None, min_border_left=0, min_border_right=0,
               min_border_top=44, min_border_bottom=35)
fig_w.yaxis.visible = False
fig_w.grid.visible = False
fig_w.outline_line_color = None
BX = 857
fig_w.line([BX, BX], [100, 1000], line_color="#111111", line_width=1.5)
bw_x, bw_y = [], []
for pr, di, kt in zip(barb_p, barb_dir, barb_kt):
    e, n = math.sin(math.radians(di)), math.cos(math.radians(di))
    def at(px_e, px_n):
        return BX + px_e, pr * math.exp(-px_n / PX_LN)
    x1, y1 = at(30 * e, 30 * n)
    bw_x.append([BX, x1]); bw_y.append([pr, y1])
    for k in range(kt // 10):
        d = 30 - k * 3.6
        a0 = at(d * e, d * n)
        a1 = at((d - 3) * e + 10 * n, (d - 3) * n - 10 * e)
        bw_x.append([a0[0], a1[0]]); bw_y.append([a0[1], a1[1]])
fig_w.multi_line(bw_x, bw_y, line_color="#3ceb50", line_width=1.2)
fig_w.scatter([BX] * len(barb_p), barb_p, size=3.5, fill_color="#22dd33", line_color=None)

# hodograph
fig_h = figure(width=218, height=188, x_range=Range1d(-40, 40), y_range=Range1d(-40, 40), x_axis_type=None, y_axis_type=None,
               output_backend="svg", toolbar_location=None, min_border_left=1, min_border_right=49,
               min_border_top=44, min_border_bottom=1)
fig_h.grid.visible = False
fig_h.outline_line_color = "#f0148c"
fig_h.outline_line_width = 2
for r in hodo_rings:
    fig_h.ellipse(0, 0, width=2 * r, height=2 * r, fill_color=None, line_color="#333333", line_width=1.1)
fig_h.line([-40, 40], [0, 0], line_color="#222222", line_width=1.1)
fig_h.line([0, 0], [-40, 40], line_color="#222222", line_width=1.1)
hodo_tk = [-35, -25, -15, -5, 5, 15, 25, 35]
fig_h.segment(x0=hodo_tk, x1=hodo_tk, y0=-1, y1=1, line_color="#222222", line_width=1.3)
fig_h.segment(x0=-1, x1=1, y0=hodo_tk, y1=hodo_tk, line_color="#222222", line_width=1.3)
fig_h.line(hodo_u, hodo_v, line_color="#f0148c", line_width=1.5)
fig_h.scatter([hodo_u[0], hodo_u[-1]], [hodo_v[0], hodo_v[-1]], size=4, fill_color="#f0148c", line_color=None)
fig_h.add_layout(Arrow(end=NormalHead(size=8, fill_color="#111111", line_color="#111111"), x_start=0, y_start=0,
                       x_end=storm_u, y_end=storm_v, line_color="#222222", line_width=1.3))
fig_h.text([-5.9, -13.5, -20.6, -27.8], [-6.5, -14, -21, -28], text=[str(r) for r in hodo_rings], angle=math.pi / 4,
           text_align="center", text_baseline="middle", text_font=value("DejaVu Sans"), text_font_size="12px", text_color="#333333")
fig_h.text([-29], [35], text=["knots"], text_align="center", text_baseline="middle",
           text_font=value("DejaVu Sans"), text_font_size="11px", text_color="#333333")

# stats table
fig_t = figure(width=218, height=429, x_range=Range1d(897, 1115), y_range=Range1d(1192, 763), x_axis_type=None, y_axis_type=None,
               output_backend="svg", toolbar_location=None, min_border_left=0, min_border_right=0,
               min_border_top=0, min_border_bottom=0)
fig_t.grid.visible = False
fig_t.outline_line_color = None
fig_t.line([919, 1044, 1044, 919, 919], [817, 817, 1093, 1093, 817], line_color="#555555", line_width=1.5)
fig_t.multi_line([[919, 1044]] * 3, [[863, 863], [946, 946], [1021, 1021]], line_color="#444444", line_width=1.5)
fnt = value("DejaVu Sans")
fig_t.text([923] * len(stats), [s[2] for s in stats], text=[s[0] for s in stats], text_align="left", text_baseline="middle",
           text_font=fnt, text_font_size="12px", text_color="#333333")
fig_t.text([1003] * len(stats), [s[2] for s in stats], text=[s[1] for s in stats], text_align="left", text_baseline="middle",
           text_font=fnt, text_font_size="12px", text_color="#333333")
fig_t.text([982, 978, 979], [871, 953, 1029], text=["Surface", "Most Unstable", "Hodograph"], text_align="center",
           text_baseline="middle", text_font=fnt, text_font_size="12px", text_color="#333333")
fig_t.text([899, 1003], [1179, 1179], text=["Initial Time", "00Z24MAY2021"], text_align="left", text_baseline="middle",
           text_font=fnt, text_font_size="12px", text_color="#f2e640")

# each figure sits in its own box so that neighbouring plot frames are not forced to line up
top_row = row(column(fig_a), column(cb_a), column(fig_b), column(cb_b), spacing=0)
bottom_row = row(column(fig_c), column(fig_w), column(column(fig_h), column(fig_t), spacing=0), spacing=0)
bottom_row.stylesheets = [InlineStyleSheet(css=":host{position:relative;} :host::after{content:'';position:absolute;left:253px;top:6px;width:860px;height:611px;border:2px solid #222;border-bottom:none;pointer-events:none;box-sizing:border-box;}")]
page = column(top_row, bottom_row, spacing=0)
open("out.html", "w").write(file_html(page, INLINE))
